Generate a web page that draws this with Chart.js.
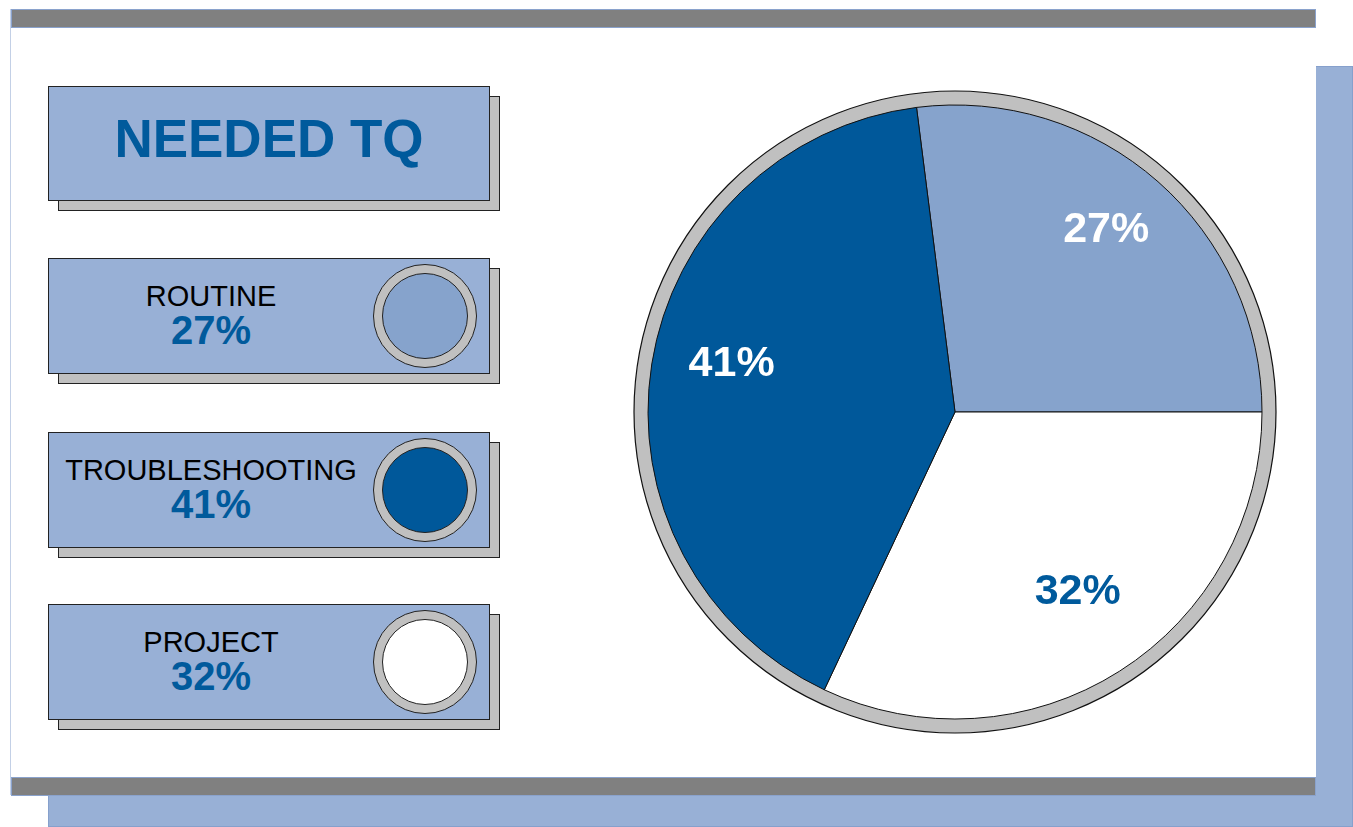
<!DOCTYPE html>
<html lang="en">
<head>
  <meta charset="UTF-8">
  <title>Needed TQ</title>
  <script src="https://cdn.jsdelivr.net/npm/chart.js"></script>
  <style>
    body { margin: 0; background: #fff; font-family: "Liberation Sans", Arial, sans-serif; }
    .back { position: absolute; left: 48px; top: 66px; width: 1303px; height: 759px; background: #98b0d6; border: 1px solid #86a0cc; }
    .panel { position: absolute; left: 10px; top: 9px; width: 1305px; height: 786px; background: #fff; border-left: 1px solid #c3d0e6; }
    .bar { position: absolute; left: 0; width: 1303px; height: 17px; background: #808080; border: 1px solid #8aa2cc; }
    .box, .shadow { position: absolute; width: 440px; border: 1px solid #222; }
    .box { background: #98b0d6; }
    .shadow { background: #c0c0c0; }
    .name, .pct { position: absolute; left: 0; width: 324px; text-align: center; white-space: nowrap; }
    .name { top: 23px; font-size: 29px; line-height: 29px; color: #000; }
    .pct { top: 51px; font-size: 40px; line-height: 40px; font-weight: bold; color: #005a9c; }
    .ring { position: absolute; left: 324px; top: 5px; width: 102px; height: 102px; border-radius: 50%; background: #c0c0c0; border: 1px solid #222; }
    .dot { position: absolute; left: 8px; top: 8px; width: 84px; height: 84px; border-radius: 50%; border: 1px solid #222; }
    #title { position: absolute; left: 0; top: 25px; width: 440px; text-align: center; font-size: 53px; line-height: 53px; font-weight: bold; color: #005a9c; }
    #pieWrap { position: absolute; left: 615px; top: 72px; width: 680px; height: 680px; }
  </style>
</head>
<body>
  <div class="back"></div>
  <div class="panel">
    <div class="bar" style="top: 0;"></div>
    <div class="bar" style="top: 768px;"></div>
  </div>

  <div class="shadow" style="left: 58px; top: 96px; height: 113px;"></div>
  <div class="box" style="left: 48px; top: 86px; height: 113px;"><div id="title">NEEDED TQ</div></div>
  <div id="legend"></div>

  <div id="pieWrap"><canvas id="pie" width="680" height="680"></canvas></div>

  <script>
    const categories = ['ROUTINE', 'TROUBLESHOOTING', 'PROJECT'];
    const values = [27, 41, 32];
    const colors = ['#86a3cc', '#00589a', '#ffffff'];
    const labelColors = ['#ffffff', '#ffffff', '#005a9c'];

    // pie order: routine, project, troubleshooting (clockwise from just left of top)
    const pieOrder = [0, 2, 1];

    // legend boxes
    const legend = document.getElementById('legend');
    const boxTops = [258, 432, 604];
    categories.forEach((name, i) => {
      const top = boxTops[i];
      legend.innerHTML +=
        `<div class="shadow" style="left: 58px; top: ${top + 10}px; height: 114px;"></div>` +
        `<div class="box" style="left: 48px; top: ${top}px; height: 114px;">` +
        `<div class="name">${name}</div><div class="pct">${values[i]}%</div>` +
        `<div class="ring"><div class="dot" style="background: ${colors[i]};"></div></div></div>`;
    });

    const ringPlugin = {
      id: 'ring',
      beforeDatasetsDraw(chart) {
        const arc = chart.getDatasetMeta(0).data[0];
        const ctx = chart.ctx;
        const r = arc.outerRadius;
        ctx.save();
        ctx.beginPath();
        ctx.arc(arc.x, arc.y, r + 14, 0, Math.PI * 2);
        ctx.fillStyle = '#c0c0c0';
        ctx.fill();
        ctx.lineWidth = 1.2;
        ctx.strokeStyle = '#111';
        ctx.stroke();
        ctx.restore();
      }
    };

    const labelPlugin = {
      id: 'sliceLabels',
      afterDatasetsDraw(chart) {
        const ctx = chart.ctx;
        const meta = chart.getDatasetMeta(0);
        ctx.save();
        ctx.font = 'bold 43px "Liberation Sans", Arial, sans-serif';
        ctx.textAlign = 'center';
        ctx.textBaseline = 'alphabetic';
        meta.data.forEach((arc, j) => {
          const k = pieOrder[j];
          const mid = (arc.startAngle + arc.endAngle) / 2;
          const r = arc.outerRadius * 0.74;
          ctx.fillStyle = labelColors[k];
          ctx.fillText(values[k] + '%', arc.x + 1 + Math.cos(mid) * r, arc.y + Math.sin(mid) * r);
        });
        ctx.restore();
      }
    };

    new Chart(document.getElementById('pie'), {
      type: 'pie',
      data: {
        labels: pieOrder.map(k => categories[k]),
        datasets: [{
          data: pieOrder.map(k => values[k]),
          backgroundColor: pieOrder.map(k => colors[k]),
          borderColor: '#111',
          borderWidth: 1
        }]
      },
      options: {
        responsive: false,
        animation: false,
        radius: 307,
        rotation: -values[0] * 3.6 + 90,
        plugins: { legend: { display: false }, tooltip: { enabled: false } }
      },
      plugins: [ringPlugin, labelPlugin]
    });
  </script>
</body>
</html>
